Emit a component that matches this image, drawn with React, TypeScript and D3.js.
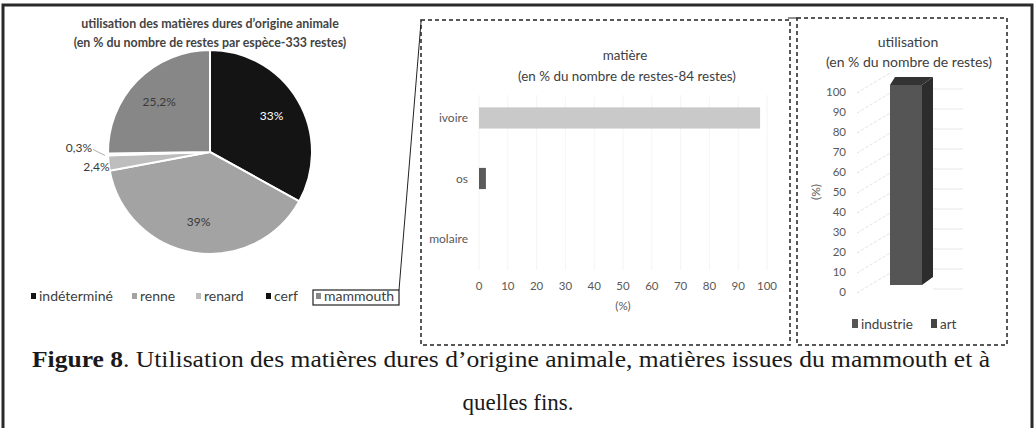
import React from 'react';
import * as d3 from 'd3';

// données
const pieSpecies = ['indéterminé', 'renne', 'renard', 'cerf', 'mammouth'];
const pieValues = [33, 39, 2.4, 0.3, 25.2];
const pieLabels = ['33%', '39%', '2,4%', '0,3%', '25,2%'];
const pieColors = ['#141414', '#a3a3a3', '#bdbdbd', '#1e1e1e', '#878787'];
const pieLabelColors = ['#ffffff', '#3a3a3a', '#3a3a3a', '#3a3a3a', '#3a3a3a'];

const matCategories = ['ivoire', 'os', 'molaire'];
const matValues = [97.6, 2.4, 0];
const matColors = ['#c9c9c9', '#5a5a5a', '#5a5a5a'];
const matTicks = [0, 10, 20, 30, 40, 50, 60, 70, 80, 90, 100];

const useCategories = ['industrie', 'art'];
const useValues = [100, 0];
const useColors = ['#555555', '#454545'];
const useTicks = [0, 10, 20, 30, 40, 50, 60, 70, 80, 90, 100];

const W = 1036;
const H = 428;
const SANS = 'Lato, "Open Sans", sans-serif';
const SERIF = '"Liberation Serif", "Times New Roman", Times, serif';

// ---------- camembert ----------
const pieCx = 210;
const pieCy = 152;
const pieR = 102;

const PieChart: React.FC = () => {
  const pie = d3.pie<number>().sort(null).startAngle(0).endAngle(2 * Math.PI);
  const arcs = pie(pieValues);
  const arc = d3.arc<d3.PieArcDatum<number>>().innerRadius(0).outerRadius(pieR);
  const labelArc = d3.arc<d3.PieArcDatum<number>>().innerRadius(pieR * 0.7).outerRadius(pieR * 0.7);

  // position des entrées de légende
  const legendX = [31, 132, 196, 266, 316];

  return (
    <g style={{ fontFamily: SANS }}>
      <text x={pieCx} y={28} textAnchor="middle" fontWeight={700} fontSize={12.4} fill="#444">
        utilisation des matières dures d’origine animale
      </text>
      <text x={pieCx} y={47} textAnchor="middle" fontWeight={700} fontSize={12.4} fill="#444">
        (en % du nombre de restes par espèce-333 restes)
      </text>
      <g transform={`translate(${pieCx},${pieCy})`}>
        {arcs.map((a, i) => (
          <path key={i} d={arc(a) || ''} fill={pieColors[i]} stroke="#fff" strokeWidth={2} />
        ))}
        {arcs.map((a, i) => {
          const mid = (a.startAngle + a.endAngle) / 2;
          if (pieValues[i] < 5) {
            // petites parts : étiquette à l'extérieur
            const rr = pieR * 1.02;
            const ex = Math.sin(mid) * rr;
            const ey = -Math.cos(mid) * rr;
            const tiny = pieValues[i] < 1;
            const lift = tiny ? -6 : 4;
            return (
              <g key={`l${i}`}>
                {tiny && (
                  <line x1={ex - 1} y1={ey + 1} x2={ex - 13} y2={ey + lift + 1} stroke="#999" strokeWidth={0.8} />
                )}
                <text x={ex + (tiny ? -14 : 3)} y={ey + lift + 4} textAnchor="end" fontSize={12} fill="#3a3a3a">
                  {pieLabels[i]}
                </text>
              </g>
            );
          }
          const [lx, ly] = labelArc.centroid(a);
          return (
            <text key={`l${i}`} x={lx} y={ly + 4} textAnchor="middle" fontSize={12} fill={pieLabelColors[i]}>
              {pieLabels[i]}
            </text>
          );
        })}
      </g>
      {/* légende */}
      {pieSpecies.map((s, i) => (
        <g key={s}>
          <rect x={legendX[i]} y={293} width={5} height={6} fill={pieColors[i] === '#1e1e1e' ? '#111' : pieColors[i]} />
          <text x={legendX[i] + 8} y={301} fontSize={14} fill="#404040">
            {s}
          </text>
        </g>
      ))}
      <rect x={313} y={290} width={86} height={15} fill="none" stroke="#222" strokeWidth={1.2} />
    </g>
  );
};

// ---------- barres horizontales (matière) ----------
const MatChart: React.FC = () => {
  const xScale = d3.scaleLinear().domain([0, 100]).range([479, 767]);
  const yScale = d3.scaleBand<string>().domain(matCategories).range([68, 289]).padding(0.65);

  return (
    <g style={{ fontFamily: SANS }}>
      <text x={625} y={60} textAnchor="middle" fontSize={13.4} fill="#404040">
        matière
      </text>
      <text x={627} y={81} textAnchor="middle" fontSize={13.4} fill="#404040">
        (en % du nombre de restes-84 restes)
      </text>
      {matTicks.map(t => (
        <line key={`g${t}`} x1={xScale(t)} x2={xScale(t)} y1={95} y2={270} stroke="#f4f4f4" strokeWidth={1} />
      ))}
      {matCategories.map((c, i) => {
        const y = yScale(c) || 0;
        return (
          <g key={c}>
            {matValues[i] > 0 && (
              <rect x={xScale(0)} y={y} width={xScale(matValues[i]) - xScale(0)} height={yScale.bandwidth()} fill={matColors[i]} />
            )}
            <text x={468} y={y + yScale.bandwidth() / 2 + 4} textAnchor="end" fontSize={12} fill="#595959">
              {c}
            </text>
          </g>
        );
      })}
      {matTicks.map(t => (
        <text key={t} x={xScale(t)} y={290} textAnchor="middle" fontSize={11.5} fill="#595959">
          {t}
        </text>
      ))}
      <text x={623} y={310} textAnchor="middle" fontSize={11.5} fill="#595959">
        (%)
      </text>
    </g>
  );
};

// ---------- barre 3D (utilisation) ----------
const UseChart: React.FC = () => {
  const yScale = d3.scaleLinear().domain([0, 100]).range([285, 85]);
  const xScale = d3.scaleBand<string>().domain(useCategories).range([890, 954]).padding(0);
  const dx = 11;
  const dy = -8;
  const labelShift = 7;

  return (
    <g style={{ fontFamily: SANS }}>
      <text x={908} y={47} textAnchor="middle" fontSize={14} fill="#404040">
        utilisation
      </text>
      <text x={909} y={67} textAnchor="middle" fontSize={14} fill="#404040">
        (en % du nombre de restes)
      </text>
      {/* grille 3D très pâle */}
      {useTicks.map(t => {
        const y = yScale(t) + labelShift;
        return (
          <g key={`g${t}`}>
            <line x1={857} y1={y + 1} x2={890} y2={y - 19} stroke="#e2e2e2" strokeWidth={1} strokeDasharray="3 2" />
            <line x1={933} y1={y - 3} x2={963} y2={y - 3} stroke="#ececec" strokeWidth={1.2} />
          </g>
        );
      })}
      {useTicks.map(t => (
        <text key={t} x={846} y={yScale(t) + labelShift + 4} textAnchor="end" fontSize={11.5} fill="#595959">
          {t}
        </text>
      ))}
      <text transform={`translate(820,192) rotate(-90)`} textAnchor="middle" fontSize={12} fill="#595959">
        (%)
      </text>
      {useCategories.map((c, i) => {
        if (useValues[i] <= 0) return null;
        const x0 = xScale(c) || 0;
        const w = xScale.bandwidth();
        const yTop = yScale(useValues[i]);
        const yBot = yScale(0);
        return (
          <g key={c}>
            <path d={`M${x0 + w},${yTop} L${x0 + w + dx},${yTop + dy} L${x0 + w + dx},${yBot + dy} L${x0 + w},${yBot} Z`} fill="#2c2c2c" />
            <path d={`M${x0},${yTop} L${x0 + 5},${yTop + dy} L${x0 + w + dx},${yTop + dy} L${x0 + w},${yTop} Z`} fill="#333" />
            <rect x={x0} y={yTop} width={w} height={yBot - yTop} fill={useColors[i]} />
          </g>
        );
      })}
      {/* légende */}
      {useCategories.map((c, i) => {
        const lx = i === 0 ? 852 : 931;
        return (
          <g key={`lg${c}`}>
            <rect x={lx} y={319} width={6} height={9} fill={useColors[i]} />
            <text x={lx + 9} y={328.5} fontSize={13.5} fill="#404040">
              {c}
            </text>
          </g>
        );
      })}
    </g>
  );
};

const App: React.FC = () => {
  return (
    <svg width={W} height={H} style={{ position: 'absolute', left: 0, top: 0, background: '#fff' }}>
      <rect x={0} y={0} width={W} height={H} fill="#fff" />
      {/* cadre extérieur */}
      <rect x={3} y={5} width={1029} height={440} fill="none" stroke="#2a2a2a" strokeWidth={3} />

      <PieChart />

      {/* trait de liaison mammouth -> panneau matière */}
      <line x1={399} y1={290} x2={421} y2={22} stroke="#222" strokeWidth={1} />

      {/* panneaux pointillés */}
      <rect x={421} y={20} width={369} height={325} fill="none" stroke="#222" strokeWidth={1.5} strokeDasharray="4 3" />
      <rect x={797} y={18} width={210} height={327} fill="none" stroke="#222" strokeWidth={1.5} strokeDasharray="4 3" />
      <line x1={788} y1={18} x2={797} y2={18} stroke="#222" strokeWidth={1} />

      <MatChart />
      <UseChart />

      {/* légende de la figure */}
      <text x={32} y={367} style={{ fontFamily: SERIF }} fontSize={23} fill="#1a1a1a" textLength={958} lengthAdjust="spacingAndGlyphs">
        <tspan fontWeight={700}>Figure 8</tspan>. Utilisation des matières dures d’origine animale, matières issues du mammouth et à
      </text>
      <text x={518} y={410} textAnchor="middle" style={{ fontFamily: SERIF }} fontSize={23} fill="#1a1a1a">
        quelles fins.
      </text>
    </svg>
  );
};

export default App;
